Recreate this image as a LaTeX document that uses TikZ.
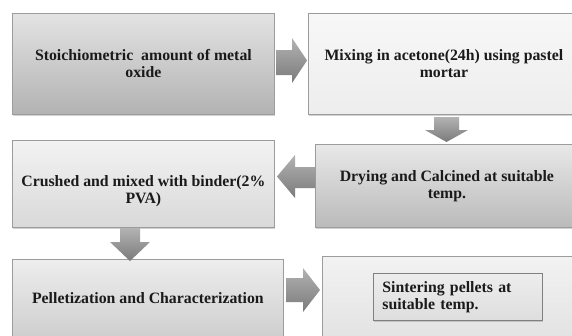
\documentclass[tikz,border=0pt]{standalone}
\usepackage{fontspec}
\setmainfont{Liberation Serif}
\usetikzlibrary{shadows,calc}
\definecolor{edge}{HTML}{9C9C9C}
\definecolor{ink}{HTML}{1A1A1A}
\begin{document}
\begin{tikzpicture}[x=1pt,y=-1pt,
  box/.style={rectangle, draw=edge, line width=0.8pt, inner sep=0pt,
    anchor=north west, align=center, text=ink,
    font=\fontsize{15.8}{17}\selectfont\bfseries,
    drop shadow={shadow xshift=1pt, shadow yshift=-1.5pt, opacity=0.35}},
  lbl/.style={align=center, text=ink, inner sep=0pt,
    font=\fontsize{15.8}{17}\selectfont\bfseries},
  fat/.style={top color=#1, bottom color=black!52, draw=none},
  fat/.default={black!30}
]
\clip (0,0) rectangle (572,335);
\fill[white] (0,0) rectangle (572,335);

% boxes
\node[box, minimum width=262pt, minimum height=101pt,
  top color=black!11, bottom color=black!30] (b1) at (12,13)
  {Stoichiometric\ \ amount of metal\\oxide};
\node[box, minimum width=271pt, minimum height=101pt,
  top color=black!3, bottom color=black!7] (b2) at (308,13)
  {Mixing in acetone(24h) using pastel\\mortar};
\node[box, minimum width=262pt, minimum height=87pt,
  top color=black!5, bottom color=black!15] (b3) at (12,140) {};
\node[lbl] (t3) at ($(b3.center)+(0,7)$)
  {Crushed and mixed with binder(2\%\\PVA)};
\node[box, minimum width=263pt, minimum height=83pt,
  top color=black!9, bottom color=black!27] (b4) at (315,144)
  {Drying and Calcined at suitable\\temp.};
\node[box, minimum width=271pt, minimum height=78pt,
  top color=black!7, bottom color=black!19] (b5) at (12,259)
  {Pelletization and Characterization};
\node[box, minimum width=256pt, minimum height=81pt,
  top color=black!5, bottom color=black!11] (b6) at (322,256) {};
\node[box, draw=black!50, minimum width=169pt, minimum height=47pt,
  text width=151pt, inner xsep=9pt, align=left,
  top color=black!7, bottom color=black!13] (in) at (373,273)
  {Sintering pellets at\\suitable temp.};

% block arrows
\shade[fat] (276,50) -- (292,50) -- (292,38) -- (307,60.5) -- (292,83)
  -- (292,75) -- (276,75) -- cycle;
\shade[fat] (434,117) -- (459,117) -- (459,130) -- (468,130)
  -- (446.5,142) -- (425,130) -- (434,130) -- cycle;
\shade[fat] (315,167) -- (295,167) -- (295,155) -- (277,176.5)
  -- (295,198) -- (295,188) -- (315,188) -- cycle;
\shade[fat] (120,228) -- (140,228) -- (140,242) -- (150,242)
  -- (130,261) -- (110,242) -- (120,242) -- cycle;
\shade[fat] (286,278) -- (303,278) -- (303,268) -- (320,290)
  -- (303,312) -- (303,302) -- (286,302) -- cycle;
\end{tikzpicture}
\end{document}
